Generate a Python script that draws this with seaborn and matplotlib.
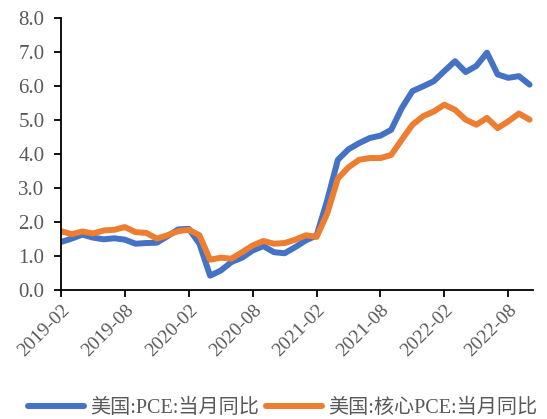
import pandas as pd
import seaborn as sns
import matplotlib.pyplot as plt

# Monthly data, 2019-02 .. 2022-10
months = pd.period_range('2019-02', '2022-10', freq='M').strftime('%Y-%m').tolist()

pce = [1.41, 1.51, 1.63, 1.54, 1.49, 1.52, 1.48, 1.36, 1.38, 1.39, 1.58, 1.78,
       1.80, 1.36, 0.42, 0.57, 0.82, 0.95, 1.16, 1.29, 1.11, 1.08, 1.26, 1.46,
       1.60, 2.64, 3.83, 4.14, 4.32, 4.47, 4.54, 4.71, 5.35, 5.85, 5.99, 6.14,
       6.44, 6.73, 6.41, 6.59, 6.98, 6.34, 6.24, 6.29, 6.04]
core_pce = [1.73, 1.64, 1.72, 1.66, 1.75, 1.77, 1.85, 1.70, 1.68, 1.51, 1.61, 1.73,
            1.77, 1.61, 0.89, 0.95, 0.92, 1.11, 1.31, 1.44, 1.36, 1.38, 1.48, 1.61,
            1.56, 2.25, 3.28, 3.61, 3.83, 3.88, 3.88, 3.97, 4.42, 4.86, 5.11, 5.25,
            5.45, 5.30, 5.01, 4.86, 5.06, 4.76, 4.96, 5.19, 5.01]

series_names = ['美国:PCE:当月同比', '美国:核心PCE:当月同比']
colors = ['#4472C4', '#ED7D31']

df = pd.DataFrame({'idx': list(range(len(months))) * 2,
                   'value': pce + core_pce,
                   'series': [series_names[0]] * len(months) + [series_names[1]] * len(months)})

sns.set_style('ticks')
plt.rcParams['font.family'] = ['Liberation Serif', 'Noto Sans CJK SC']

fig = plt.figure(figsize=(5.47, 4.19), dpi=100)
ax = fig.add_axes([0.1115, 0.308, 0.8625, 0.649])

sns.lineplot(data=df, x='idx', y='value', hue='series', palette=colors,
             linewidth=4.3, ax=ax, solid_capstyle='round', solid_joinstyle='round')

ax.set_ylim(0, 8)
ax.set_yticks([i for i in range(9)])
ax.set_yticklabels([f'{i:.1f}' for i in range(9)])
tick_pos = list(range(0, len(months), 6))
ax.set_xticks(tick_pos)
ax.set_xticklabels([months[i] for i in tick_pos], rotation=45, ha='right',
                   rotation_mode='anchor')
ax.set_xlim(0, len(months) - 0.7)
ax.set_xlabel('')
ax.set_ylabel('')
ax.tick_params(axis='both', colors='black', labelcolor='#595959', labelsize=14,
               length=5, width=1.3)
ax.tick_params(axis='y', labelsize=15, pad=7)
for s in ['top', 'right']:
    ax.spines[s].set_visible(False)
for s in ['left', 'bottom']:
    ax.spines[s].set_linewidth(1.3)
    ax.spines[s].set_color('black')

handles, labels = ax.get_legend_handles_labels()
ax.get_legend().remove()
fig.legend(handles, labels, loc='center', bbox_to_anchor=(282.5 / 547, 1 - 408 / 419),
           ncol=2, frameon=False, fontsize=14.5, handlelength=2.8, handletextpad=0.3,
           columnspacing=0.35, labelcolor='#595959', borderpad=0)

fig.savefig('out.png', dpi=100)
